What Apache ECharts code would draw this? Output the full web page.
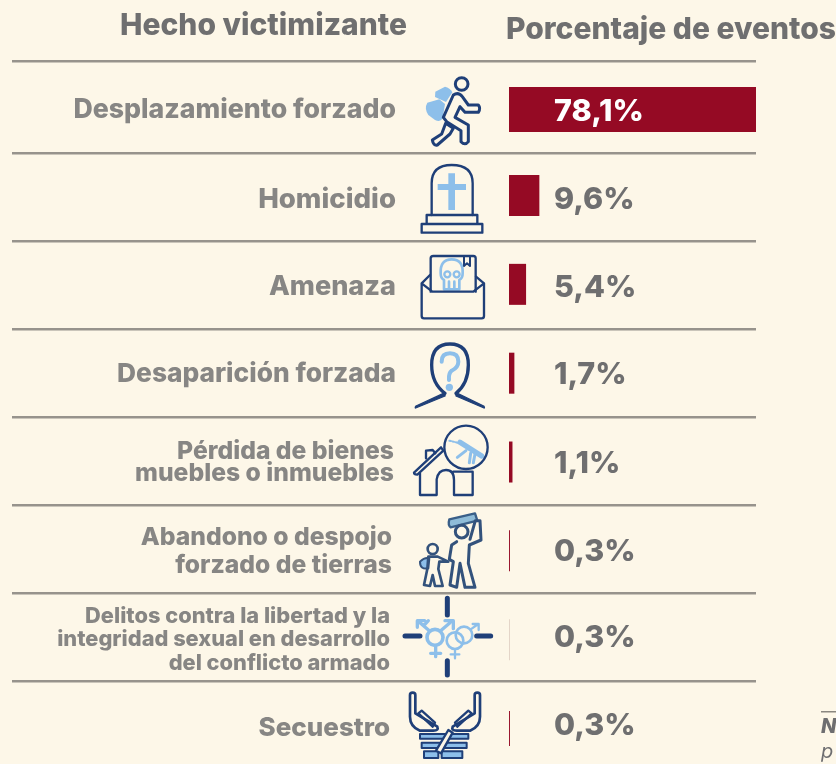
<!DOCTYPE html>
<html><head><meta charset="utf-8">
<style>html,body{margin:0;padding:0;background:#FDF7E8;overflow:hidden}#c{width:836px;height:764px}</style>
<script src="https://cdn.jsdelivr.net/npm/echarts@6/dist/echarts.min.js"></script>
</head><body><div id="c"></div>
<script>
const categories=['Desplazamiento forzado','Homicidio','Amenaza','Desaparición forzada','Pérdida de bienes\nmuebles o inmuebles','Abandono o despojo\nforzado de tierras','Delitos contra la libertad y la\nintegridad sexual en desarrollo\ndel conflicto armado','Secuestro'];
const values=[78.1,9.6,5.4,1.7,1.1,0.3,0.3,0.3];
const headers=['Hecho victimizante','Porcentaje de eventos'];
const fmt=v=>v.toFixed(1).replace('.',',')+'%';
const FONT='Inter';
const GRAY='#878684', HEAD='#6F6F70', RED='#950A24', DARK='#1F3F78', LIGHT='#8DBFEA';
const labelSize=[26.7,27.6,27.1,26.3,24.7,24.7,21.8,26];
const labelLine=[30,30,30,30,24,29,24,30];
const labelPadRight=[0,0,0,0,2,4,6,6];
const labelPadTop=[0,8,4,2,3,3,2,0];
const valueDy=[2.5,4.5,3.5,1.5,1.5,0.5,-1.5,-3];
const rich={};
labelSize.forEach((s,i)=>{
  const base={fontFamily:FONT,fontWeight:800,fontSize:s,lineHeight:labelLine[i],color:GRAY,align:'right'};
  rich['r'+i]=Object.assign({padding:[0,labelPadRight[i],0,0]},base);
  rich['t'+i]=Object.assign({padding:[labelPadTop[i],labelPadRight[i],0,0]},base);
});
function catLabel(v){const i=categories.indexOf(v);return v.split('\n').map((l,k)=>'{'+(k?'r':'t')+i+'|'+l+'}').join('\n');}
const yBase={type:'category',inverse:true,axisLine:{show:false},axisTick:{show:false},splitLine:{show:false},
  axisLabel:{interval:0,margin:113,align:'right',formatter:catLabel,rich:rich}};
const xBase={type:'value',min:0,max:78.1,show:false};
const label={show:true,verticalAlign:'middle',align:'left',formatter:p=>fmt(p.value),fontFamily:FONT,fontWeight:800,fontSize:30.5,color:HEAD};
const item=(i,h,color)=>({value:values[i],label:{position:[45,h/2+valueDy[i]],color:i===0?'#FFFFFF':HEAD},itemStyle:{color:color||RED}});
let pathId=0;
const L=(p,o)=>{const n='icp'+(pathId++);echarts.graphic.registerShape(n,echarts.graphic.extendPath(p,{}));
  return {type:n,style:Object.assign({fill:'none',stroke:DARK,lineWidth:9,lineJoin:'round',lineCap:'round'},o||{})};};
const C=(x,y,r,o)=>({type:'circle',shape:{cx:x,cy:y,r:r},style:Object.assign({fill:'none',stroke:DARK,lineWidth:9},o||{})});
const F=o=>Object.assign({fill:LIGHT,stroke:'none',lineWidth:0},o||{});
const LS=w=>({stroke:LIGHT,lineWidth:w});
const STK='#33527C';
const icon=(x,y,children)=>({type:'group',x:x,y:y,scaleX:1/3,scaleY:1/3,children:children});
const seps=[61,153,241,329,417,505,593,681].map(y=>({type:'rect',shape:{x:12,y:y-1,width:744,height:2.5},style:{fill:'#97938C'},silent:true}));
const texts=[
 {type:'text',x:263.5,y:26,style:{text:headers[0],fontFamily:FONT,fontWeight:800,fontSize:30,fill:HEAD,align:'center',verticalAlign:'middle'}},
 {type:'text',x:506,y:30,style:{text:headers[1],fontFamily:FONT,fontWeight:800,fontSize:30,fill:HEAD,align:'left',verticalAlign:'middle'}},
 {type:'rect',shape:{x:821,y:711,width:15,height:1.5},style:{fill:'#8a8780'}},
 {type:'text',x:821,y:727,style:{text:'N',fontFamily:FONT,fontWeight:800,fontStyle:'italic',fontSize:20,fill:'#6E6E70',verticalAlign:'middle'}},
 {type:'text',x:821,y:752,style:{text:'p',fontFamily:FONT,fontStyle:'italic',fontSize:20,fill:'#6E6E70',verticalAlign:'middle'}}
];
const icons=[
 icon(400,60,[
  L('M106,95 L135,80 Q150,83 157,97 L138,126 L105,111 Z',F()),
  L('M82,128 L118,118 L135,132 L128,175 Q122,188 105,180 L85,165 Q72,145 82,128 Z',F()),
  C(185,72,19),
  L('M160,105 Q175,95 187,110 L205,135 L235,135 Q243,145 235,157 L195,157 L180,140 L165,172 L205,195 L205,245 Q195,258 183,245 L183,212 L140,185 L130,172 Z'),
  L('M137,190 L160,205 L150,222 L112,255 Q100,258 97,240 L125,222 Z')
 ]),
 icon(400,60,[
  L('M145,340 H165 V450 H145 Z M113,372 H198 V390 H113 Z',F()),
  L('M95,465 L95,370 Q95,315 155,315 Q218,315 218,370 L218,465',{lineWidth:7}),
  L('M80,490 L80,465 L232,465 L232,490',{lineWidth:7}),
  L('M65,492 H247 V518 H65 Z',{lineWidth:7})
 ]),
 icon(400,240,[
  L('M122,100 Q120,58 155,58 Q190,58 188,100 Q188,115 178,120 L178,148 L132,148 L132,120 Q122,115 122,100 Z M147,125 V148 M163,125 V148',LS(8)),
  C(142,103,9,LS(7)),C(170,103,9,LS(7)),
  L('M65,130 L65,228 Q65,235 72,235 L245,235 Q252,235 252,228 L252,130 M65,130 L90,105 M252,130 L228,110 M65,130 L97,155 L220,155 L252,130',{lineWidth:7}),
  L('M92,155 L92,55 Q92,48 100,48 L220,48 Q227,48 227,55 L227,155',{lineWidth:7}),
  L('M192,50 L192,78 L201,70 L210,78 L210,50',{lineWidth:6})
 ]),
 icon(400,240,[
  L('M125,365 Q125,340 150,340 Q175,340 175,365 Q175,382 155,392 Q145,400 147,420',LS(12)),
  C(148,442,11,{fill:LIGHT,stroke:'none',lineWidth:0}),
  L('M135,460 Q95,430 95,375 Q95,312 150,312 Q205,312 205,375 Q205,430 168,460',{lineWidth:10}),
  L('M135,458 L135,468 L47,504 Q44,503 48,498 Z',{fill:DARK,lineWidth:4}),
  L('M168,458 L168,468 L252,504 Q255,503 251,498 Z',{fill:DARK,lineWidth:4})
 ]),
 icon(400,240,[
  L('M180,607 L245,648',LS(16)),L('M148,602 L172,608',{stroke:LIGHT,lineWidth:6,lineDash:[5,5]}),
  L('M198,632 L172,652 M212,640 L208,668 M225,642 L220,668',LS(9)),
  C(198,622,65,{lineWidth:7}),
  L('M42,698 L123,622 L130,632 L52,704 Q42,703 42,698 Z',{lineWidth:7}),
  L('M78,655 L78,632 L98,630 L106,640',{lineWidth:7}),
  L('M60,700 L60,765 L110,765 L110,718 Q115,690 138,690 Q162,690 162,720 L162,765 L218,765 L218,695 L160,695',{lineWidth:7})
 ]),
 icon(400,500,[
  L('M148,58 L225,40 L232,62 L152,82 Q143,75 148,58 Z',{fill:'#8FBCD8',stroke:'#3A5F88',lineWidth:7}),
  C(185,95,19,{stroke:STK}),
  L('M226,62 L240,62 L243,120 L208,135 L205,190 L225,262 L195,262 L180,190 L170,262 L150,255 L160,185 L148,178 L155,135 L170,125 M210,118 L226,62',{stroke:STK}),
  L('M60,185 Q75,170 88,175 L85,205 Q60,210 60,185 Z',F({stroke:STK,lineWidth:6})),
  C(98,147,15,{stroke:STK,lineWidth:8}),
  L('M85,170 L113,170 L145,185 L118,185 L115,207 L128,258 L105,258 L98,225 L90,258 L72,255 L82,207 Z',{stroke:STK,lineWidth:8})
 ]),
 icon(400,500,[
  L('M142,295 V345 M142,482 V525 M15,408 H60 M230,408 H272',{lineWidth:15}),
  C(105,412,24,LS(11)),C(165,422,25,LS(8)),C(192,405,25,LS(8)),
  L('M107,438 V470 M92,460 H122 M122,392 L150,368 M135,362 H160 V386 M88,392 L60,368 M52,382 V362 H74 M72,376 L85,362',LS(10)),
  L('M165,448 V475 M152,463 H178 M212,388 L235,372 M218,372 H236 V390',LS(7))
 ]),
 icon(400,500,[
  L('M30,585 Q30,578 38,578 Q46,578 46,585 L46,640 L112,680 Q117,692 100,692 L60,692 Q30,680 30,650 Z',{lineWidth:8}),
  L('M55,640 L65,632 L105,668 L98,680 Z',{lineWidth:7}),
  L('M240,585 Q240,578 232,578 Q224,578 224,585 L224,640 L158,680 Q153,692 170,692 L210,692 Q240,680 240,650 Z',{lineWidth:8}),
  L('M215,640 L205,632 L165,668 L172,680 Z',{lineWidth:7}),
  L('M60,702 H205 V716 H60 Z M65,728 H200 V744 H65 Z M72,754 H115 V774 H72 Z M125,754 H187 V774 H125 Z',F({stroke:DARK,lineWidth:6})),
  L('M108,752 L145,690 L158,698 L123,760 Z',{fill:'#FDF7E8',lineWidth:7})
 ])
];
const gridBase={left:509,width:247,outerBoundsMode:'none'};
const chart=echarts.init(document.getElementById('c'),null,{renderer:'canvas'});
chart.setOption({
 backgroundColor:'#FDF7E8',animation:false,
 textStyle:{fontFamily:FONT},
 grid:[Object.assign({top:65,height:89},gridBase),Object.assign({top:151.1,height:533},gridBase),Object.assign({top:693.5,height:70},gridBase)],
 xAxis:[0,1,2].map(g=>Object.assign({gridIndex:g},xBase)),
 yAxis:[Object.assign({gridIndex:0,data:categories.slice(0,1)},yBase),Object.assign({gridIndex:1,data:categories.slice(1,7)},yBase),Object.assign({gridIndex:2,data:categories.slice(7)},yBase)],
 series:[
  {type:'bar',xAxisIndex:0,yAxisIndex:0,barWidth:45,label:label,data:[item(0,45)]},
  {type:'bar',xAxisIndex:1,yAxisIndex:1,barWidth:41,label:label,
    data:[item(1,41),item(2,41),item(3,41),item(4,41),item(5,41),item(6,41,'#E3D3C6')]},
  {type:'bar',xAxisIndex:2,yAxisIndex:2,barWidth:35,label:label,data:[item(7,35)]}
 ],
 graphic:{elements:seps.concat(icons,texts)}
});
</script></body></html>
